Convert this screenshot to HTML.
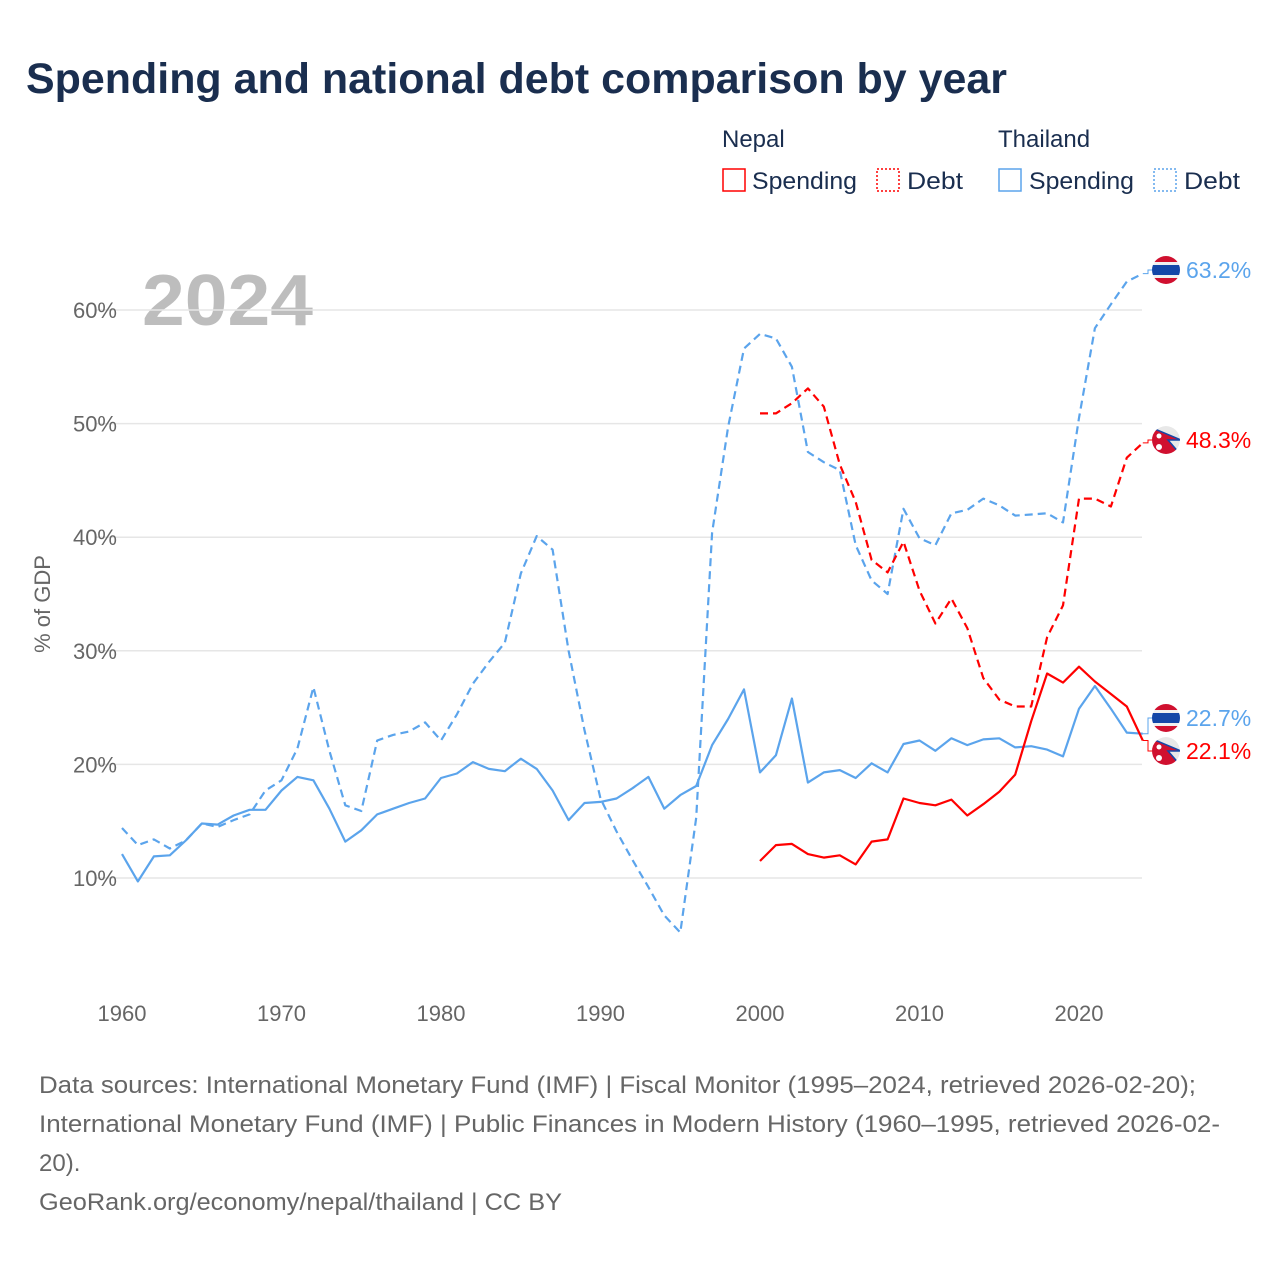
<!DOCTYPE html>
<html><head><meta charset="utf-8"><style>
body{margin:0;background:#fff;font-family:"Liberation Sans",sans-serif;}
</style></head><body>
<svg id="c" width="1280" height="1280" xmlns="http://www.w3.org/2000/svg" style="font-family:'Liberation Sans',sans-serif">
<defs>
<clipPath id="fc1"><circle cx="1166" cy="270" r="14"/></clipPath>
<clipPath id="fc2"><circle cx="1166" cy="440" r="14"/></clipPath>
<clipPath id="fc3"><circle cx="1166" cy="718" r="14"/></clipPath>
<clipPath id="fc4"><circle cx="1166" cy="751" r="14"/></clipPath>
</defs>
<text x="26" y="93" font-size="43" font-weight="bold" fill="#1a2e4f" textLength="981" lengthAdjust="spacingAndGlyphs">Spending and national debt comparison by year</text>
<g font-size="24" fill="#1a2e4f">
<text x="722" y="147">Nepal</text>
<text x="998" y="147">Thailand</text>
<g><rect x="723" y="169" width="22" height="22" fill="none" stroke="#f00" stroke-width="1.5"/><text x="752" y="189" textLength="105" lengthAdjust="spacingAndGlyphs">Spending</text></g>
<g><rect x="877" y="169" width="22" height="22" fill="none" stroke="#f00" stroke-width="1.5" stroke-dasharray="2,2"/><text x="907" y="189" textLength="56" lengthAdjust="spacingAndGlyphs">Debt</text></g>
<g><rect x="999" y="169" width="22" height="22" fill="none" stroke="#5ba4ec" stroke-width="1.5"/><text x="1029" y="189" textLength="105" lengthAdjust="spacingAndGlyphs">Spending</text></g>
<g><rect x="1154" y="169" width="22" height="22" fill="none" stroke="#5ba4ec" stroke-width="1.5" stroke-dasharray="2,2"/><text x="1184" y="189" textLength="56" lengthAdjust="spacingAndGlyphs">Debt</text></g>
</g>
<text x="142" y="325" font-size="72" font-weight="bold" fill="#bdbdbd" textLength="171" lengthAdjust="spacingAndGlyphs">2024</text>
<text transform="translate(50,604) rotate(-90)" text-anchor="middle" font-size="22" fill="#666">% of GDP</text>
<g id="grid"></g><g id="lines"></g><g id="ends"></g>
<g font-size="24" fill="#666">
<text x="39" y="1093" textLength="1157" lengthAdjust="spacingAndGlyphs">Data sources: International Monetary Fund (IMF) | Fiscal Monitor (1995–2024, retrieved 2026-02-20);</text>
<text x="39" y="1132" textLength="1181" lengthAdjust="spacingAndGlyphs">International Monetary Fund (IMF) | Public Finances in Modern History (1960–1995, retrieved 2026-02-</text>
<text x="39" y="1171">20).</text>
<text x="39" y="1210" textLength="523" lengthAdjust="spacingAndGlyphs">GeoRank.org/economy/nepal/thailand | CC BY</text>
</g>
</svg>
<script>
const thYears=[1960,1961,1962,1963,1964,1965,1966,1967,1968,1969,1970,1971,1972,1973,1974,1975,1976,1977,1978,1979,1980,1981,1982,1983,1984,1985,1986,1987,1988,1989,1990,1991,1992,1993,1994,1995,1996,1997,1998,1999,2000,2001,2002,2003,2004,2005,2006,2007,2008,2009,2010,2011,2012,2013,2014,2015,2016,2017,2018,2019,2020,2021,2022,2023,2024];
const thSpending=[12.1,9.7,11.9,12.0,13.3,14.8,14.7,15.5,16.0,16.0,17.7,18.9,18.6,16.1,13.2,14.2,15.6,16.1,16.6,17.0,18.8,19.2,20.2,19.6,19.4,20.5,19.6,17.7,15.1,16.6,16.7,17.0,17.9,18.9,16.1,17.3,18.1,21.7,24.0,26.6,19.3,20.8,25.8,18.4,19.3,19.5,18.8,20.1,19.3,21.8,22.1,21.2,22.3,21.7,22.2,22.3,21.5,21.6,21.3,20.7,24.9,26.9,24.9,22.8,22.7];
const thDebt=[14.4,12.9,13.4,12.6,13.3,14.8,14.5,15.1,15.6,17.7,18.6,21.4,26.8,21.2,16.4,15.9,22.1,22.6,22.9,23.7,22.1,24.4,27.1,29.0,30.7,36.8,40.1,38.9,30.0,23.0,17.0,14.1,11.6,9.2,6.7,5.2,15.3,40.4,49.7,56.6,57.9,57.5,55.0,47.5,46.6,45.9,39.3,36.2,35.0,42.5,39.9,39.3,42.1,42.4,43.4,42.8,41.9,42.0,42.1,41.3,50.5,58.4,60.5,62.5,63.2];
const npYears=[2000,2001,2002,2003,2004,2005,2006,2007,2008,2009,2010,2011,2012,2013,2014,2015,2016,2017,2018,2019,2020,2021,2022,2023,2024];
const npSpending=[11.5,12.9,13.0,12.1,11.8,12.0,11.2,13.2,13.4,17.0,16.6,16.4,16.9,15.5,16.5,17.6,19.1,23.8,28.0,27.2,28.6,27.3,26.2,25.1,22.1];
const npDebt=[50.9,50.9,51.8,53.1,51.5,46.4,43.1,38.0,36.9,39.6,35.3,32.4,34.6,32.0,27.6,25.7,25.1,25.1,31.2,34.0,43.4,43.4,42.7,47.0,48.3];
const yTicks=[10,20,30,40,50,60];
const xTicks=[1960,1970,1980,1990,2000,2010,2020];
const NS="http://www.w3.org/2000/svg";
const X=y=>122+(y-1960)*15.95;
const Y=v=>991.6-v*11.36;
function mk(t,a,p){const e=document.createElementNS(NS,t);for(const k in a)e.setAttribute(k,a[k]);p.appendChild(e);return e;}
const grid=document.getElementById('grid');
yTicks.forEach(v=>{
 const l=mk('line',{x1:95,x2:1142,y1:Y(v),y2:Y(v),stroke:'#e6e6e6','stroke-width':1.5},grid);
 
 
 const t=mk('text',{x:117,y:Y(v)+8,'text-anchor':'end','font-size':22,fill:'#666'},grid);
 t.textContent=v+'%';
 
 
});
xTicks.forEach(v=>{
 const t=mk('text',{x:X(v),y:1021,'text-anchor':'middle','font-size':22,fill:'#666'},grid);
 t.textContent=v;
 
 
});
const lines=document.getElementById('lines');
function series(years,vals,color,dash,name){
 const d=years.map((y,i)=>(i?'L':'M')+X(y).toFixed(1)+','+Y(vals[i]).toFixed(1)).join(' ');
 const p=mk('path',{d:d,fill:'none',stroke:color,'stroke-width':2.2,'stroke-linejoin':'round'},lines);
 if(dash)p.setAttribute('stroke-dasharray','8,5');
 
 
}
series(thYears,thDebt,'#5ba4ec',true,'thailand-debt-line');
series(thYears,thSpending,'#5ba4ec',false,'thailand-spending-line');
series(npYears,npDebt,'#f00',true,'nepal-debt-line');
series(npYears,npSpending,'#f00',false,'nepal-spending-line');
const ends=document.getElementById('ends');
function endLabel(val,labelY,color,flag,name,clip){
 const x0=X(2024),y0=Y(val);
 const c=mk('path',{d:`M${x0},${y0} L1148,${y0} L1148,${labelY} L1152,${labelY}`,fill:'none',stroke:color,'stroke-width':1},ends);
 
 
 const g=mk('g',{'clip-path':'url(#'+clip+')'},ends);
 
 
 if(flag==='th'){
  mk('circle',{cx:1166,cy:labelY,r:14,fill:'#f0f0f0'},g);
  mk('rect',{x:1152,y:labelY-14,width:28,height:6,fill:'#d0102f'},g);
  mk('rect',{x:1152,y:labelY-5,width:28,height:10,fill:'#1447a8'},g);
  mk('rect',{x:1152,y:labelY+8,width:28,height:6,fill:'#d0102f'},g);
 }else{
  mk('circle',{cx:1166,cy:labelY,r:14,fill:'#e8e8e8'},g);
  mk('path',{d:`M1150,${labelY-13} L1181,${labelY} L1168,${labelY} L1181,${labelY+15} L1150,${labelY+15} Z`,fill:'#d0102f',stroke:'#1447a8','stroke-width':1.5},g);
  mk('circle',{cx:1159,cy:labelY-4,r:2.5,fill:'#fff'},g);
  mk('circle',{cx:1159,cy:labelY+7,r:3,fill:'#fff'},g);
 }
 const t=mk('text',{x:1186,y:labelY+8,'font-size':23,fill:color},ends);
 t.textContent=val.toFixed(1)+'%';
 
 
}
endLabel(thDebt[thDebt.length-1],270,'#5ba4ec','th','thailand-debt-end','fc1');
endLabel(npDebt[npDebt.length-1],440,'#f00','np','nepal-debt-end','fc2');
endLabel(thSpending[thSpending.length-1],718,'#5ba4ec','th','thailand-spending-end','fc3');
endLabel(npSpending[npSpending.length-1],751,'#f00','np','nepal-spending-end','fc4');
</script>
</body></html>
